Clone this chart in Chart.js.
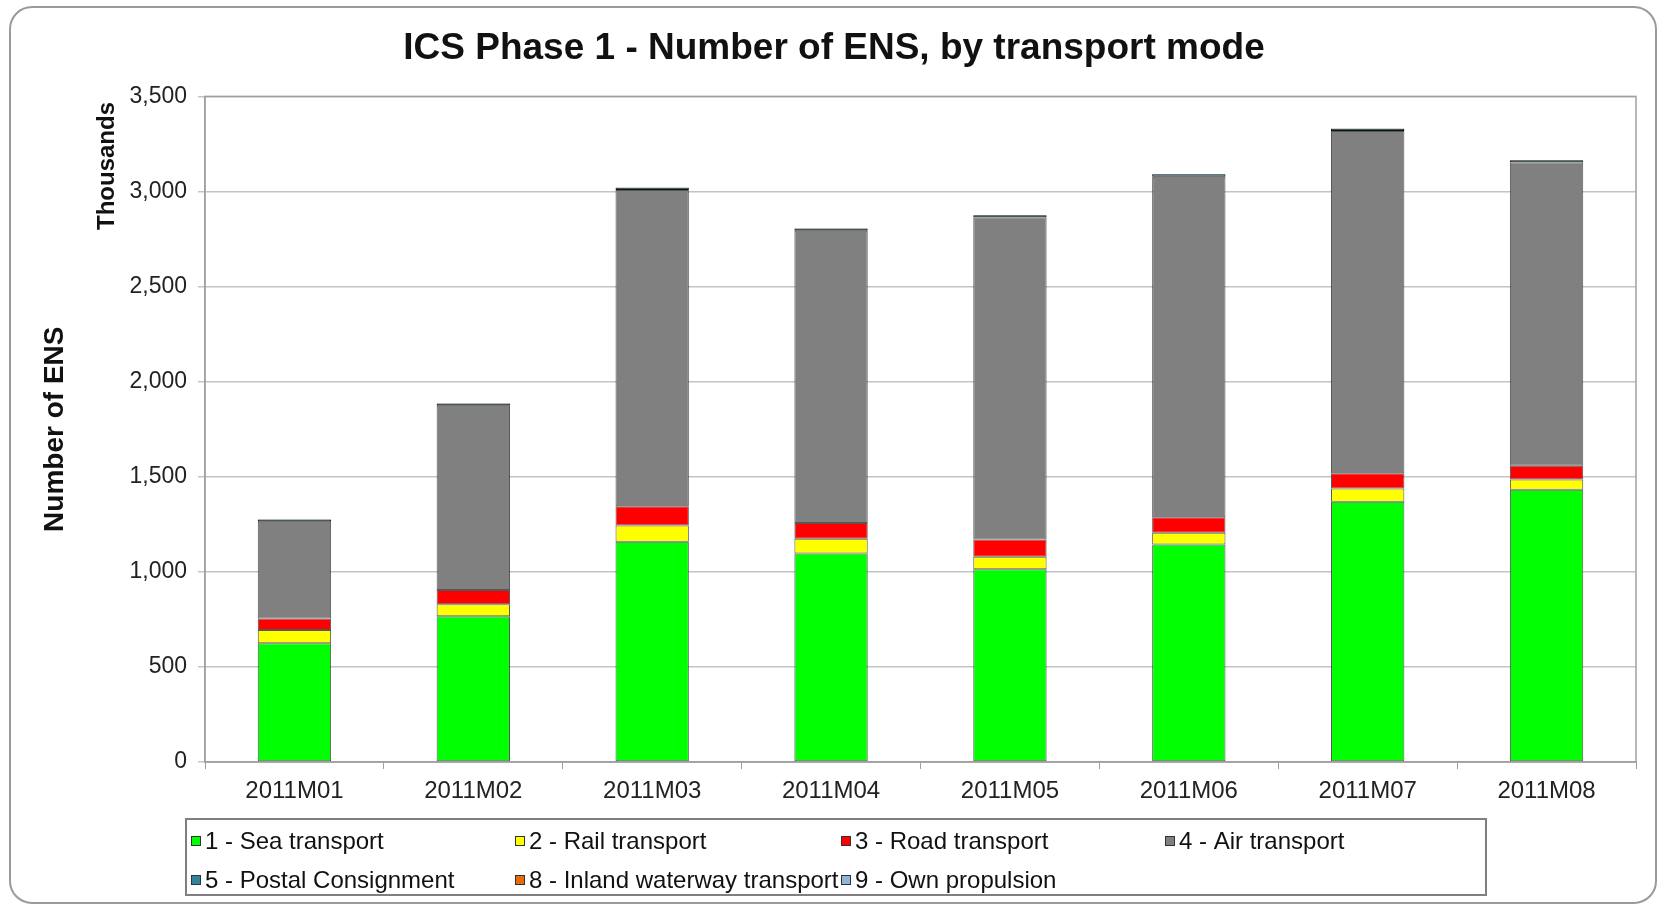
<!DOCTYPE html>
<html>
<head>
<meta charset="utf-8">
<script src="https://cdn.jsdelivr.net/npm/chart.js@4.4.1/dist/chart.umd.min.js"></script>
<style>
  html, body { margin: 0; padding: 0; background: #fff; }
  #wrap { width: 1658px; height: 906px; }
</style>
</head>
<body>
<div id="wrap"><canvas id="ensChart" width="1658" height="906"></canvas></div>
<script>
// values in thousands
const months = ['2011M01', '2011M02', '2011M03', '2011M04', '2011M05', '2011M06', '2011M07', '2011M08'];
const sea = [624, 767, 1158, 1097, 1013, 1144, 1368, 1432];
const rail = [70, 63, 85, 77, 66, 61, 70, 53];
const road = [61, 74, 102, 83, 91, 82, 80, 73];
const air = [508, 969, 1663, 1536, 1693, 1791, 1800, 1594];
const postal = [12, 12, 12, 12, 12, 12, 12, 12];
const inland = [1, 1, 1, 1, 1, 1, 1, 1];
const ownPropulsion = [1, 1, 1, 1, 1, 1, 1, 1];
const yTicks = [0, 500, 1000, 1500, 2000, 2500, 3000, 3500];

const FONT = '"Liberation Sans", Arial, sans-serif';

// frame, plot border, "Thousands" and the grid legend
const decor = {
  id: 'decor',
  beforeDraw(chart) {
    const ctx = chart.ctx;
    ctx.save();
    ctx.fillStyle = '#fff';
    ctx.fillRect(0, 0, chart.width, chart.height);
    ctx.strokeStyle = '#9a9a9a';
    ctx.lineWidth = 2;
    ctx.beginPath();
    ctx.roundRect(10, 7, 1646, 896, 22);
    ctx.stroke();
    ctx.restore();
  },
  afterDraw(chart) {
    const ctx = chart.ctx;
    const a = chart.chartArea;
    ctx.save();
    ctx.strokeStyle = '#a0a0a0';
    ctx.lineWidth = 1.5;
    ctx.strokeRect(a.left, a.top, a.right - a.left, a.bottom - a.top);

    ctx.translate(107, 166);
    ctx.rotate(-Math.PI / 2);
    ctx.fillStyle = '#111';
    ctx.font = 'bold 24px ' + FONT;
    ctx.textAlign = 'center';
    ctx.textBaseline = 'middle';
    ctx.fillText('Thousands', 0, 0);
    ctx.restore();

    // legend box
    ctx.save();
    ctx.strokeStyle = '#7f7f7f';
    ctx.lineWidth = 2;
    ctx.strokeRect(186, 819, 1300, 76);
    const cols = [191, 515, 841, 1165];
    const rows = [841, 880];
    ctx.font = '24px ' + FONT;
    ctx.textBaseline = 'middle';
    chart.data.datasets.forEach((ds, i) => {
      const x = cols[i % 4], y = rows[Math.floor(i / 4)];
      ctx.fillStyle = ds.backgroundColor;
      ctx.fillRect(x, y - 5, 10, 10);
      ctx.strokeStyle = '#333';
      ctx.lineWidth = 1;
      ctx.strokeRect(x + 0.5, y - 4.5, 9, 9);
      ctx.fillStyle = '#111';
      ctx.fillText(ds.label, x + 14, y + 1);
    });
    ctx.restore();
  }
};

function series(label, data, color, border) {
  return {
    label: label,
    data: data,
    backgroundColor: color,
    borderColor: border || 'rgba(30,30,30,0.75)',
    borderWidth: 1,
    borderSkipped: false
  };
}

new Chart(document.getElementById('ensChart'), {
  type: 'bar',
  data: {
    labels: months,
    datasets: [
      series('1 - Sea transport', sea, '#00ff00'),
      series('2 - Rail transport', rail, '#ffff00'),
      series('3 - Road transport', road, '#ff0000'),
      series('4 - Air transport', air, '#808080'),
      series('5 - Postal Consignment', postal, '#31859c', '#111'),
      series('8 - Inland waterway transport', inland, '#e46c0a', '#111'),
      series('9 - Own propulsion', ownPropulsion, '#95b3d7', '#111')
    ]
  },
  options: {
    responsive: false,
    animation: false,
    layout: { padding: { left: 32, right: 22, top: 0, bottom: 94 } },
    datasets: { bar: { categoryPercentage: 1, barPercentage: 0.41 } },
    plugins: {
      legend: { display: false },
      tooltip: { enabled: false },
      title: {
        display: true,
        text: 'ICS Phase 1 - Number of ENS, by transport mode',
        color: '#111',
        font: { family: FONT, size: 37, weight: 'bold' },
        padding: { top: 27, bottom: 25 }
      }
    },
    scales: {
      x: {
        stacked: true,
        afterFit: s => { s.height = 50; },
        grid: { drawOnChartArea: false, drawTicks: true, tickLength: 7, color: '#a0a0a0', offset: true },
        border: { color: '#a0a0a0', width: 1.5 },
        ticks: { color: '#222', padding: 8, font: { family: FONT, size: 24 } }
      },
      y: {
        stacked: true,
        min: 0,
        max: 3500,
        afterFit: s => { s.width = 173; },
        afterBuildTicks: s => { s.ticks = yTicks.map(v => ({ value: v })); },
        grid: { color: '#c4c4c4', lineWidth: 1.5, tickLength: 7 },
        border: { color: '#a0a0a0', width: 1.5 },
        ticks: {
          color: '#222',
          padding: 11,
          font: { family: FONT, size: 23 },
          callback: v => v.toLocaleString('en-US')
        },
        title: {
          display: true,
          text: 'Number of ENS',
          color: '#111',
          font: { family: FONT, size: 28, weight: 'bold' },
          padding: { top: 6, bottom: 0 }
        }
      }
    }
  },
  plugins: [decor]
});
</script>
</body>
</html>
